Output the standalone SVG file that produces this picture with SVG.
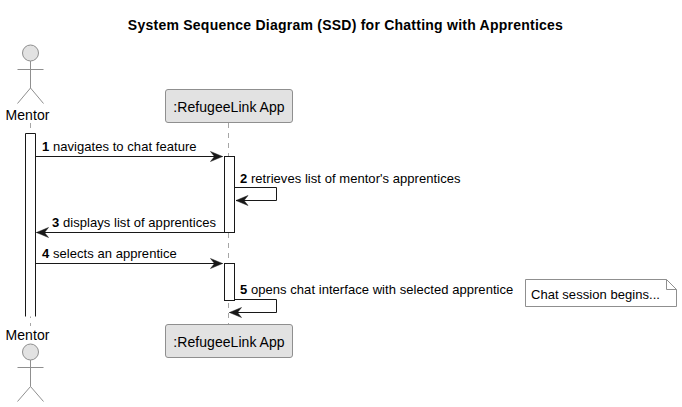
<svg xmlns="http://www.w3.org/2000/svg" width="682" height="407" viewBox="0 0 682 407">
<defs>
<marker id="ah" markerUnits="userSpaceOnUse" markerWidth="14" markerHeight="12" refX="12" refY="5" orient="auto-start-reverse" overflow="visible"><path d="M0,0 L12,5 L0,10 L4,5 Z" fill="#181818" stroke="#181818" stroke-width="0.5"/></marker>
</defs>
<style>
text{font-family:"Liberation Sans",Arial,sans-serif;fill:#000;}
.t{font-size:13px;letter-spacing:.05px;}
.b{font-weight:bold;}
.box{fill:#e2e2e2;stroke:#8f8f8f;stroke-width:1;}
.act{fill:#fff;stroke:#181818;stroke-width:1;}
.life{stroke:#8f8f8f;stroke-width:.8;stroke-dasharray:5 5;fill:none;}
.msg{stroke:#181818;stroke-width:1;fill:none;marker-end:url(#ah);}
.stick{stroke:#8f8f8f;stroke-width:1;fill:none;}
.head{fill:#e2e2e2;stroke:#8f8f8f;stroke-width:1;}
.name{font-size:14px;letter-spacing:.05px;}
</style>
<rect width="682" height="407" fill="#fff"/>
<text x="345.500" y="30" text-anchor="middle" font-size="14" font-weight="bold" letter-spacing=".24">System Sequence Diagram (SSD) for Chatting with Apprentices</text>
<g id="lifelines">
<line class="life" x1="30.500" y1="123" x2="30.500" y2="326"/>
<line class="life" x1="228.500" y1="123" x2="228.500" y2="324"/>
</g>
<g id="activations">
<rect x="25.500" y="133.500" width="10" height="183" fill="#fff"/>
<path d="M25.500,316.500V133.500H35.500V316.500" fill="none" stroke="#181818"/>
<rect class="act" x="224.500" y="156.500" width="10" height="76"/>
<rect class="act" x="224.500" y="263.500" width="10" height="37"/>
</g>
<g id="connectors">
<line class="msg" x1="35.500" y1="156.500" x2="222.500" y2="156.500"/>
<polyline class="msg" points="234.500,187.500 276.500,187.500 276.500,200.500 236,200.500"/>
<line class="msg" x1="224.500" y1="232.500" x2="36.500" y2="232.500"/>
<line class="msg" x1="35.500" y1="263.500" x2="222.500" y2="263.500"/>
<polyline class="msg" points="234.500,299.500 276.500,299.500 276.500,312.500 229.500,312.500"/>
</g>
<g id="messages">
<text class="t" x="42" y="151"><tspan class="b">1</tspan> navigates to chat feature</text>
<text class="t" x="240" y="183"><tspan class="b">2</tspan> retrieves list of mentor's apprentices</text>
<text class="t" x="52" y="227"><tspan class="b">3</tspan> displays list of apprentices</text>
<text class="t" x="42" y="258"><tspan class="b">4</tspan> selects an apprentice</text>
<text class="t" x="240" y="294"><tspan class="b">5</tspan> opens chat interface with selected apprentice</text>
</g>
<g id="actor-top">
<circle class="head" cx="30.500" cy="53" r="8"/>
<path class="stick" d="M30.500,61V88M17.500,69.500H43.500M30.500,88L17.500,103.500M30.500,88L43.500,103.500"/>
<text class="name" x="27.500" y="120" text-anchor="middle">Mentor</text>
</g>
<g id="actor-bottom">
<text class="name" x="27.500" y="340" text-anchor="middle">Mentor</text>
<circle class="head" cx="30.500" cy="352" r="8"/>
<path class="stick" d="M30.500,360V386.500M17.500,367.500H43.500M30.500,386.500L17.500,401.500M30.500,386.500L43.500,401.500"/>
</g>
<g id="app-top">
<rect class="box" x="165.500" y="89.500" width="127" height="33" rx="2.500"/>
<text class="name" x="229" y="112" text-anchor="middle">:RefugeeLink App</text>
</g>
<g id="app-bottom">
<rect class="box" x="165.500" y="324.500" width="127" height="33" rx="2.500"/>
<text class="name" x="229" y="347" text-anchor="middle">:RefugeeLink App</text>
</g>
<g id="note">
<path d="M525.500,279.500H666.500L676.500,289.500V306.500H525.500Z" fill="#fff" stroke="#8f8f8f"/>
<path d="M666.500,279.500V289.500H676.500" fill="none" stroke="#8f8f8f"/>
<text class="t" x="531" y="299">Chat session begins...</text>
</g>
</svg>
